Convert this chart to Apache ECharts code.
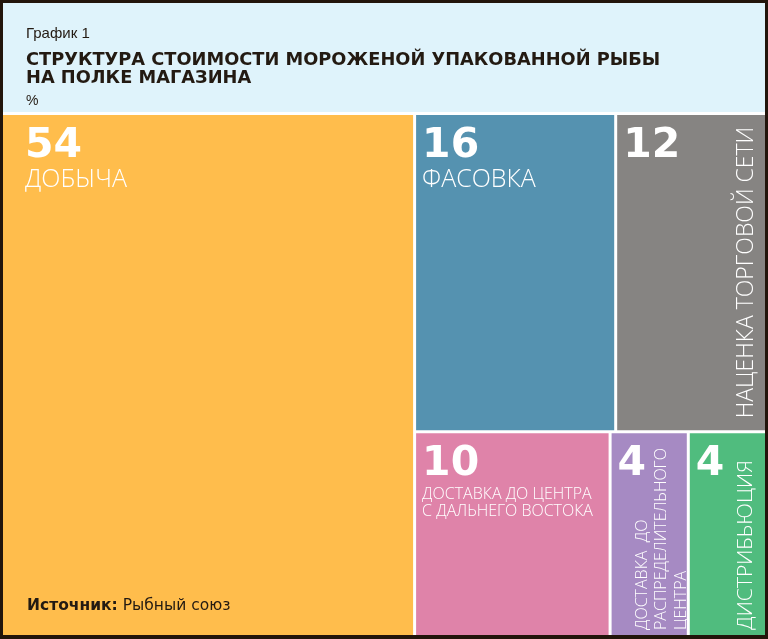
<!DOCTYPE html>
<html>
<head>
<meta charset="utf-8">
<script src="https://cdn.jsdelivr.net/npm/echarts@6/dist/echarts.min.js"></script>
<style>
html, body { margin: 0; padding: 0; background: #22150b; }
#container { width: 768px; height: 639px; }
</style>
</head>
<body>
<div id="container"></div>
<script>
var names = [
    'ДОБЫЧА',
    'ФАСОВКА',
    'НАЦЕНКА ТОРГОВОЙ СЕТИ',
    'ДОСТАВКА ДО ЦЕНТРА\nС ДАЛЬНЕГО ВОСТОКА',
    'ДОСТАВКА  ДО\nРАСПРЕДЕЛИТЕЛЬНОГО\nЦЕНТРА',
    'ДИСТРИБЬЮЦИЯ'
];
var values = [54, 16, 12, 10, 4, 4];
var colors = ['#ffbd4c', '#5592b0', '#868482', '#df83a9', '#a68ac3', '#50bc7e'];
// names written bottom-to-top along the right edge
var vertical = [false, false, true, false, true, true];

// look of the rotated names, by cell index (offset is in the rotated frame)
var vLabel = {
    2: { fontSize: 23, lineHeight: 24, padding: [0, 0, 7, 12], offset: [0, 0] },
    4: { fontSize: 16, lineHeight: 19.5, padding: [0, 0, 0, 5], offset: [0, 4] },
    5: { fontSize: 21, lineHeight: 20, padding: [0, 0, 9, 5], offset: [0, 0] }
};

var dark = '#231a12';
var nameFont = "'Open Sans', sans-serif";

var dom = document.getElementById('container');
var myChart = echarts.init(dom);

var cells = values.map(function (v, i) {
    var item = { name: names[i], value: v, itemStyle: { color: colors[i] } };
    // the big cell keeps its text off the left edge
    if (i === 0) item.label = { padding: [11, 0, 0, 22] };
    return item;
});

var sideCells = values.map(function (v, i) {
    if (!vertical[i]) {
        return { name: names[i], value: v, label: { show: false } };
    }
    var o = vLabel[i];
    return {
        name: names[i],
        value: v,
        label: {
            show: true,
            fontSize: o.fontSize,
            lineHeight: o.lineHeight,
            padding: o.padding,
            offset: o.offset
        }
    };
});

var option = {
    backgroundColor: '#22150b',
    graphic: [
        { type: 'rect', shape: { x: 3, y: 3, width: 762, height: 109 }, style: { fill: '#dff3fb' }, silent: true },
        { type: 'rect', shape: { x: 3, y: 112, width: 762, height: 3 }, style: { fill: '#ffffff' }, silent: true }
    ],
    title: [
        {
            text: 'График 1', left: 26, top: 26, padding: 0,
            textStyle: { fontFamily: "'Liberation Sans Narrow', 'Liberation Sans'", fontWeight: 'normal', fontSize: 15, color: dark }
        },
        {
            text: 'СТРУКТУРА СТОИМОСТИ МОРОЖЕНОЙ УПАКОВАННОЙ РЫБЫ\nНА ПОЛКЕ МАГАЗИНА', left: 26, top: 51, padding: 0,
            textStyle: { fontFamily: "'DejaVu Sans'", fontWeight: 'bold', fontSize: 17.8, lineHeight: 18, color: dark }
        },
        {
            text: '%', left: 26, top: 94, padding: 0,
            textStyle: { fontFamily: "'Liberation Sans Narrow', 'Liberation Sans'", fontWeight: 'normal', fontSize: 14, color: dark }
        },
        {
            text: '{b|Источник:} {r|Рыбный союз}', left: 27, top: 597, padding: 0, z: 10,
            textStyle: {
                rich: {
                    b: { fontFamily: "'DejaVu Sans'", fontWeight: 'bold', fontSize: 15.5, color: dark },
                    r: { fontFamily: "'DejaVu Sans'", fontWeight: 'normal', fontSize: 15.5, color: dark }
                }
            }
        }
    ],
    series: [
        {
            type: 'treemap',
            left: 3, top: 115, right: 3, bottom: 4,
            squareRatio: 1.45,
            sort: false,
            roam: false,
            nodeClick: false,
            silent: true,
            breadcrumb: { show: false },
            levels: [
                { itemStyle: { gapWidth: 3, borderWidth: 0, borderColor: '#ffffff' } },
                { itemStyle: { borderWidth: 0 } }
            ],
            label: {
                show: true,
                position: 'insideTopLeft',
                padding: [11, 0, 0, 6],
                formatter: function (p) {
                    var i = names.indexOf(p.name);
                    var s = '{num|' + p.value + '}';
                    if (!vertical[i]) {
                        var lines = names[i].split('\n');
                        var key = lines.length > 1 ? 's' : 'b';
                        if (lines.length > 1) s += '\n{sp| }';
                        lines.forEach(function (l) { s += '\n{' + key + '|' + l + '}'; });
                    }
                    return s;
                },
                rich: {
                    num: { fontFamily: "'DejaVu Sans'", fontWeight: 'bold', fontSize: 41, lineHeight: 40, color: '#fff' },
                    b: { fontFamily: nameFont, fontWeight: 300, fontSize: 25, lineHeight: 27, color: '#fff' },
                    s: { fontFamily: nameFont, fontWeight: 300, fontSize: 16, lineHeight: 17, color: '#fff' },
                    sp: { fontSize: 2, lineHeight: 2 }
                }
            },
            data: cells
        },
        {
            type: 'treemap',
            left: 3, top: 115, right: 3, bottom: 4,
            squareRatio: 1.45,
            sort: false,
            roam: false,
            nodeClick: false,
            silent: true,
            breadcrumb: { show: false },
            levels: [
                { itemStyle: { gapWidth: 3, borderWidth: 0, borderColor: 'rgba(0,0,0,0)', color: 'rgba(0,0,0,0)' } },
                { itemStyle: { borderWidth: 0, color: 'rgba(0,0,0,0)', borderColor: 'rgba(0,0,0,0)' } }
            ],
            label: {
                show: true,
                position: 'insideBottomRight',
                rotate: 90,
                align: 'left',
                verticalAlign: 'bottom',
                overflow: 'none',
                fontFamily: nameFont,
                fontWeight: 300,
                color: '#fff',
                formatter: '{b}'
            },
            data: sideCells
        }
    ]
};

if (option && typeof option === 'object') {
    myChart.setOption(option, true);
}
</script>
</body>
</html>
